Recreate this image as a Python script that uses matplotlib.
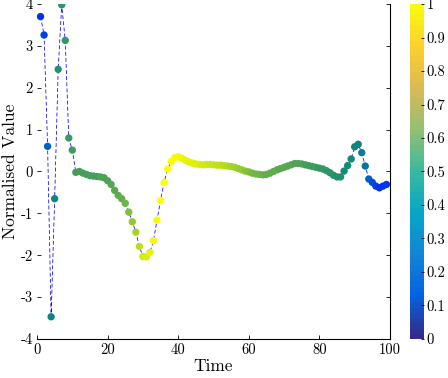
import matplotlib
matplotlib.use('Agg')
import matplotlib.pyplot as plt
from matplotlib.colors import LinearSegmentedColormap
from matplotlib.cm import ScalarMappable
from matplotlib.colors import Normalize

plt.rcParams['font.family'] = ['cmr10', 'DejaVu Serif']
plt.rcParams['mathtext.fontset'] = 'cm'
plt.rcParams['axes.unicode_minus'] = False
plt.rcParams['axes.formatter.use_mathtext'] = True

# time steps and normalised values
time = list(range(1, 100))
value = [3.70, 3.26, 0.60, -3.47, -0.65, 2.44, 3.98, 3.13, 0.80, 0.51,
         -0.02, 0.00, -0.04, -0.07, -0.10, -0.11, -0.12, -0.13, -0.15, -0.22,
         -0.31, -0.45, -0.57, -0.65, -0.76, -0.97, -1.20, -1.45, -1.79, -2.03,
         -2.04, -1.93, -1.65, -1.16, -0.69, -0.26, 0.06, 0.24, 0.33, 0.35,
         0.32, 0.27, 0.23, 0.20, 0.18, 0.17, 0.16, 0.17, 0.17, 0.16,
         0.15, 0.15, 0.14, 0.13, 0.12, 0.10, 0.07, 0.04, 0.01, -0.01,
         -0.04, -0.06, -0.07, -0.08, -0.07, -0.04, 0.00, 0.04, 0.07, 0.10,
         0.13, 0.16, 0.19, 0.19, 0.18, 0.16, 0.14, 0.12, 0.10, 0.08,
         0.06, 0.02, -0.03, -0.09, -0.13, -0.13, 0.01, 0.14, 0.30, 0.59,
         0.65, 0.45, 0.13, -0.18, -0.26, -0.35, -0.39, -0.35, -0.31]
# colour value of each dot
shade = [0.08, 0.12, 0.25, 0.45, 0.45, 0.50, 0.53, 0.55, 0.57, 0.58,
         0.60, 0.60, 0.60, 0.60, 0.60, 0.60, 0.60, 0.61, 0.61, 0.62,
         0.63, 0.64, 0.65, 0.66, 0.68, 0.72, 0.76, 0.80, 0.84, 0.88,
         0.90, 0.93, 0.97, 0.98, 1.00, 1.00, 1.00, 0.99, 0.98, 0.97,
         0.95, 0.94, 0.93, 0.92, 0.91, 0.90, 0.89, 0.88, 0.87, 0.86,
         0.85, 0.84, 0.83, 0.82, 0.80, 0.79, 0.77, 0.76, 0.74, 0.72,
         0.70, 0.69, 0.68, 0.67, 0.66, 0.66, 0.65, 0.65, 0.64, 0.64,
         0.63, 0.63, 0.62, 0.62, 0.61, 0.60, 0.59, 0.58, 0.57, 0.56,
         0.55, 0.54, 0.53, 0.52, 0.51, 0.50, 0.48, 0.47, 0.46, 0.45,
         0.44, 0.40, 0.35, 0.25, 0.18, 0.12, 0.08, 0.08, 0.08]

x_ticks = [0, 20, 40, 60, 80, 100]
y_ticks = [-4, -3, -2, -1, 0, 1, 2, 3, 4]
cbar_ticks = [0, 0.1, 0.2, 0.3, 0.4, 0.5, 0.6, 0.7, 0.8, 0.9, 1]

dot_cmap = LinearSegmentedColormap.from_list('dots', [
    (0.0, (0.0, 0.12, 1.0)), (0.25, (0.0, 0.38, 0.80)),
    (0.45, (0.05, 0.53, 0.48)), (0.6, (0.28, 0.62, 0.36)),
    (0.75, (0.55, 0.78, 0.2)), (0.9, (0.85, 0.93, 0.05)),
    (1.0, (1.0, 1.0, 0.0))])
parula = LinearSegmentedColormap.from_list('parula', [
    '#352A87', '#0363E1', '#1485D4', '#06A7C6', '#38B99E',
    '#92BF73', '#D9BA56', '#FCCE2E', '#F9FB0E'], N=64)

fig = plt.figure(figsize=(4.48, 3.78), dpi=100)
ax = fig.add_axes([0.0826, 0.1032, 0.7879, 0.8862])
ax.plot(time, value, color='b', lw=0.55, ls=(0, (5, 3)), zorder=1)
ax.scatter(time, value, c=shade, cmap=dot_cmap, vmin=0, vmax=1, s=28,
           edgecolors='none', zorder=2)
ax.set_xlim(0, 100)
ax.set_ylim(-4, 4)
ax.set_xticks(x_ticks)
ax.set_xticklabels([str(t) for t in x_ticks])
ax.set_yticks(y_ticks)
ax.set_yticklabels([str(t) for t in y_ticks])
ax.spines['top'].set_visible(False)
ax.spines['left'].set_visible(False)
ax.tick_params(direction='in', length=3, width=0.6, labelsize=10.5,
               right=True, top=False, pad=3)
ax.set_xlabel('Time', fontsize=12.5, labelpad=1)
ax.set_ylabel('Normalised Value', fontsize=12.5, labelpad=2)

cax = fig.add_axes([0.915, 0.1032, 0.031, 0.8862])
cb = fig.colorbar(ScalarMappable(norm=Normalize(0, 1), cmap=parula), cax=cax)
cb.set_ticks(cbar_ticks)
cb.set_ticklabels(['0', '0.1', '0.2', '0.3', '0.4', '0.5', '0.6', '0.7',
                   '0.8', '0.9', '1'])
cb.outline.set_visible(False)
cax.tick_params(direction='in', length=2, width=0.6, labelsize=10.5, pad=2)

fig.savefig('out.png', dpi=100)
